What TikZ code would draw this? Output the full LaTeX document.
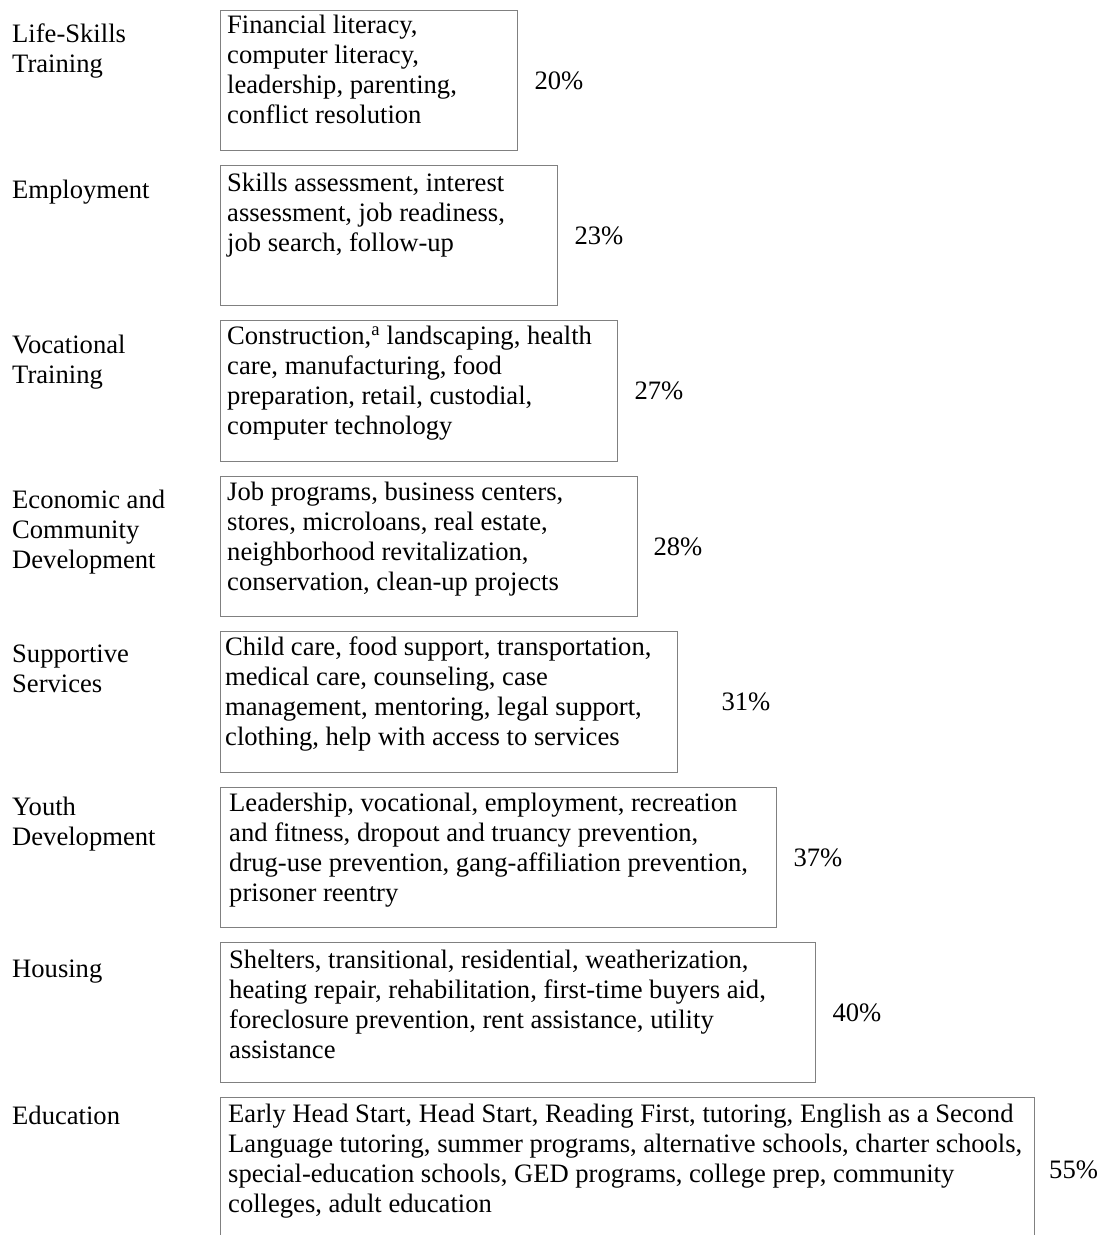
\documentclass[tikz,border=0pt]{standalone}
\usepackage{fontspec}
\setmainfont{Liberation Serif}
\begin{document}
\begin{tikzpicture}[x=1pt,y=-1pt,
  txt/.style={font=\fontsize{26.6}{30}\selectfont, inner sep=0pt, align=left, anchor=north west},
  box/.style={draw=black!50, line width=1.3pt, anchor=north west, inner sep=0pt},
  pct/.style={font=\fontsize{26.6}{30}\selectfont, inner sep=0pt, anchor=west}]
\clip (0,0) rectangle (1104,1235);
% 1
\node[box, minimum width=297pt, minimum height=140pt] (b1) at (220,10) {};
\node[txt] (t1) at (227,12) {\strut Financial literacy,\\computer literacy,\\leadership, parenting,\\conflict resolution};
\node[pct] (p1) at ([xshift=16pt]b1.east) {20\%};
\node[txt] (l1) at (12,21) {\strut Life-Skills\\Training};
% 2
\node[box, minimum width=337pt, minimum height=140pt] (b2) at (220,165) {};
\node[txt] (t2) at (227,170) {\strut Skills assessment, interest\\assessment, job readiness,\\job search, follow-up};
\node[pct] (p2) at ([xshift=16pt]b2.east) {23\%};
\node[txt] (l2) at (12,177) {\strut Employment};
% 3
\node[box, minimum width=397pt, minimum height=141pt] (b3) at (220,320) {};
\node[txt] (t3) at (227,323) {\strut Construction,\textsuperscript{a} landscaping, health\\care, manufacturing, food\\preparation, retail, custodial,\\computer technology};
\node[pct] (p3) at ([xshift=16pt]b3.east) {27\%};
\node[txt] (l3) at (12,332) {\strut Vocational\\Training};
% 4
\node[box, minimum width=417pt, minimum height=140pt] (b4) at (220,476) {};
\node[txt] (t4) at (227,479) {\strut Job programs, business centers,\\stores, microloans, real estate,\\neighborhood revitalization,\\conservation, clean-up projects};
\node[pct] (p4) at ([xshift=15pt]b4.east) {28\%};
\node[txt] (l4) at (12,487) {\strut Economic and\\Community\\Development};
% 5
\node[box, minimum width=457pt, minimum height=141pt] (b5) at (220,631) {};
\node[txt] (t5) at (225,634) {\strut Child care, food support, transportation,\\medical care, counseling, case\\management, mentoring, legal support,\\clothing, help with access to services};
\node[pct] (p5) at ([xshift=43pt]b5.east) {31\%};
\node[txt] (l5) at (12,641) {\strut Supportive\\Services};
% 6
\node[box, minimum width=556pt, minimum height=140pt] (b6) at (220,787) {};
\node[txt] (t6) at (229,790) {\strut Leadership, vocational, employment, recreation\\and fitness, dropout and truancy prevention,\\drug-use prevention, gang-affiliation prevention,\\prisoner reentry};
\node[pct] (p6) at ([xshift=16pt]b6.east) {37\%};
\node[txt] (l6) at (12,794) {\strut Youth\\Development};
% 7
\node[box, minimum width=595pt, minimum height=140pt] (b7) at (220,942) {};
\node[txt] (t7) at (229,947) {\strut Shelters, transitional, residential, weatherization,\\heating repair, rehabilitation, first-time buyers aid,\\foreclosure prevention, rent assistance, utility\\assistance};
\node[pct] (p7) at ([xshift=16pt]b7.east) {40\%};
\node[txt] (l7) at (12,956) {\strut Housing};
% 8
\node[box, minimum width=814pt, minimum height=160pt] (b8) at (220,1097) {};
\node[txt] (t8) at (228,1101) {\strut Early Head Start, Head Start, Reading First, tutoring, English as a Second\\Language tutoring, summer programs, alternative schools, charter schools,\\special-education schools, GED programs, college prep, community\\colleges, adult education};
\node[pct] (p8) at (1049,1170) {55\%};
\node[txt] (l8) at (12,1103) {\strut Education};
\end{tikzpicture}
\end{document}
